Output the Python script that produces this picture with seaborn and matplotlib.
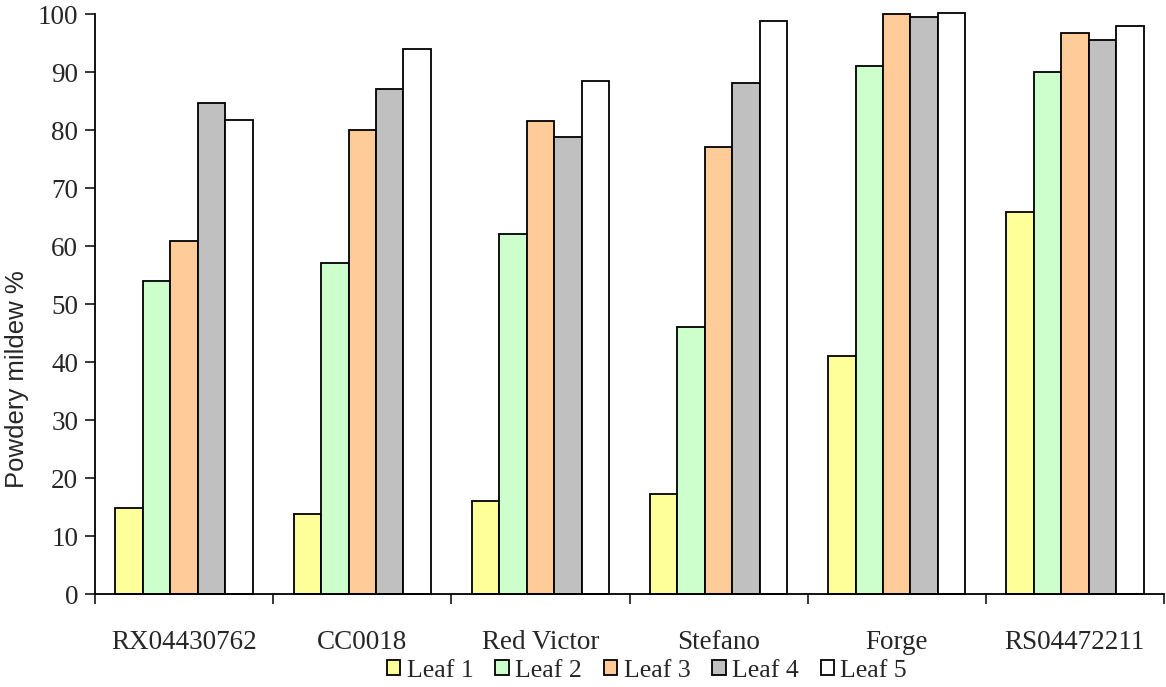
import matplotlib
matplotlib.use("Agg")
import matplotlib.pyplot as plt
import seaborn as sns
import pandas as pd
import numpy as np

# Powdery mildew severity per leaf position for six varieties
varieties = ["RX04430762", "CC0018", "Red Victor", "Stefano", "Forge", "RS04472211"]
leaves = ["Leaf 1", "Leaf 2", "Leaf 3", "Leaf 4", "Leaf 5"]
leaf1 = [14.9, 13.8, 16.1, 17.3, 41.0, 65.9]
leaf2 = [53.9, 57.1, 62.1, 46.0, 91.0, 90.0]
leaf3 = [60.9, 80.0, 81.5, 77.1, 100.0, 96.7]
leaf4 = [84.7, 87.0, 78.8, 88.1, 99.4, 95.5]
leaf5 = [81.7, 94.0, 88.4, 98.8, 100.2, 97.9]
colors = ["#FFFF99", "#CCFFCC", "#FFCC99", "#C0C0C0", "#FFFFFF"]

series = [leaf1, leaf2, leaf3, leaf4, leaf5]
df = pd.DataFrame({
    "variety": np.repeat([varieties], len(leaves), axis=0).ravel(),
    "leaf": np.repeat(leaves, len(varieties)),
    "value": np.concatenate(series),
})

sns.set_style("white")
plt.rcParams["font.family"] = ["Liberation Serif", "DejaVu Serif"]

fig = plt.figure(figsize=(11.66, 6.87), dpi=100)
ax = fig.add_axes([95 / 1166, 1 - 594 / 687, (1164 - 95) / 1166, (594 - 14) / 687])

sns.barplot(data=df, x="variety", y="value", hue="leaf", order=varieties,
            hue_order=leaves, palette=colors, edgecolor="black", linewidth=1.3,
            width=0.77, gap=0, saturation=1, errorbar=None, ax=ax)
for p in ax.patches:
    p.set_clip_on(False)

ax.set_ylim(0, 100)
ax.set_xlim(-0.5, len(varieties) - 0.5)
ax.set_yticks(np.arange(0, 101, 10))
ax.tick_params(axis="y", direction="out", length=7, width=1.3, labelsize=19.5, pad=5, left=True)
ax.set_xticks(np.arange(len(varieties)))
ax.set_xticklabels(varieties)
ax.tick_params(axis="x", which="major", length=0, labelsize=19.5, pad=26)
ax.set_xticks(np.arange(-0.5, len(varieties)), minor=True)
ax.tick_params(axis="x", which="minor", direction="out", length=7, width=1.3, bottom=True)
for s in ["top", "right"]:
    ax.spines[s].set_visible(False)
for s in ["left", "bottom"]:
    ax.spines[s].set_color("black")
    ax.spines[s].set_linewidth(1.3)
ax.set_xlabel("")
ax.set_ylabel("")

fig.text(17 / 1166, 1 - 379 / 687, "Powdery mildew %", rotation=90,
         ha="center", va="center", fontsize=18.5, family=["Liberation Sans", "DejaVu Sans"])

handles, labels = ax.get_legend_handles_labels()
ax.legend_.remove()
fig.legend(handles, labels, loc="center", bbox_to_anchor=(647 / 1166, 1 - 671 / 687),
           ncol=5, frameon=False, fontsize=18.5, handlelength=0.52, handleheight=0.52,
           handletextpad=0.25, columnspacing=0.85, borderpad=0)

fig.savefig("out.png", dpi=100)
